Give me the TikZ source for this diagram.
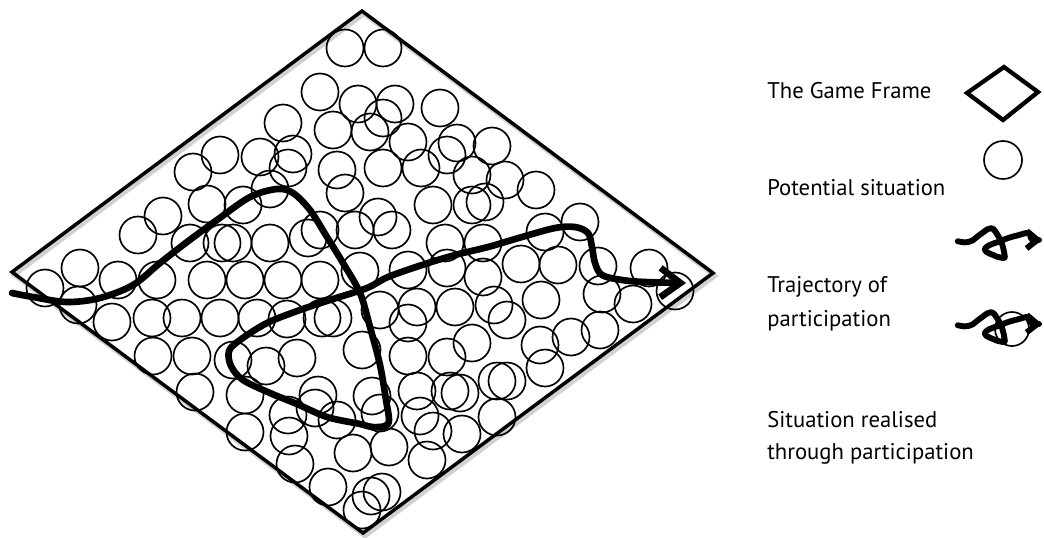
\documentclass[tikz,border=0pt]{standalone}
\usepackage{fontspec}
\setmainfont{PT Sans}
\usetikzlibrary{arrows.meta}
\begin{document}
\begin{tikzpicture}[x=0.75pt,y=-0.75pt,
  frame/.style={line width=2.6pt, line join=miter},
  frameshadow/.style={line width=3.4pt, line join=miter, black!18},
  situation/.style={line width=1.25pt},
  trajline/.style={line cap=round, line join=round},
  lbl/.style={anchor=base west, inner sep=0pt, font=\fontsize{17}{25}\selectfont},
  traj/.pic={
    \begin{scope}[shift={(-350,-307)}]
      \draw[trajline, pic actions] plot[smooth, tension=0.55] coordinates {
        (12,293) (33,297) (67,302) (100,298) (133,285) (160,263) (187,242)
        (217,220) (250,197) (277,189) (293,193) (310,210) (327,237) (343,263)
        (360,293) (370,327) (380,365) (386,400) (389,420) (385,426) (372,427)
        (360,424) (327,417) (297,404) (270,393) (243,380) (231,366) (229,351)
        (240,340) (267,323) (300,310) (333,299) (367,288) (388,277) (422,265)
        (455,255) (488,247) (522,237) (555,228) (575,227) (588,233) (592,247)
        (595,263) (602,275) (622,280) (645,282) (686,283)};
    \end{scope}
  }]
\useasboundingbox (0,0) rectangle (1044,537);

% soft shadow under the frame
\draw[frameshadow] (364,14) -- (715,276) -- (365,536) -- (14,275) -- cycle;

% potential situations
\foreach \p in {
  (345,48),(383,48),
  (320,92),(358,104),(395,104),(440,108),(383,118),
  (283,123),(333,130),(370,132),
  (408,142),(457,143),(492,146),(447,155),
  (220,155),(260,157),(293,154),(288,168),
  (193,172),(337,170),(383,168),(421,168),(472,175),(505,180),(536,190),
  (270,189),(345,193),
  (243,205),(207,204),(163,216),(138,235),
  (433,205),(472,205),(485,202),(378,217),
  (190,243),(222,243),(233,243),(270,243),(308,238),(320,230),(355,230),
  (392,230),(445,243),(483,243),(545,232),(580,222),
  (80,268),(45,288),(78,305),(118,280),(157,280),(207,280),(245,280),(283,280),(320,280),(360,271),
  (408,270),(447,268),(483,277),(521,264),(558,265),(598,266),(649,268),(675,291),
  (112,322),(152,318),(182,318),(220,318),(257,318),(287,319),(322,318),(333,318),
  (380,310),(417,307),(408,323),(455,307),(494,305),(507,320),(541,300),(602,294),(633,304),
  (153,356),(192,356),(233,360),(266,366),(297,358),(362,350),(408,356),(447,357),(472,343),(540,345),(571,337),(600,330),
  (195,392),(245,395),(318,395),(372,396),(417,391),(450,391),(460,393),(497,381),(507,381),(545,368),
  (315,408),(288,415),(337,420),(380,413),(420,416),(433,431),(462,434),(497,417),(245,432),(289,436),
  (353,453),(389,447),(427,460),(295,464),(328,487),(362,510),(371,496),(382,492)}
  \draw[situation] \p circle[radius=18.5];

% the game frame
\coordinate (ft) at (362,11);
\coordinate (fr) at (713,273);
\coordinate (fb) at (363,533);
\coordinate (fl) at (12,272);
\draw[frame] (ft) -- (fr) -- (fb) -- (fl) -- cycle;

% trajectory of participation
\pic[line width=5pt, -{Straight Barb[length=15pt,width=22pt]}] at (350,307) {traj};

% legend
\node[lbl] (l1) at (767,98) {The Game Frame};
\node[lbl] (l2) at (767,195) {Potential situation};
\node[lbl] (l3a) at (767,292) {Trajectory of};
\node[lbl] (l3b) at (767,326) {participation};
\node[lbl] (l4a) at (767,427) {Situation realised};
\node[lbl] (l4b) at (767,459) {through participation};

\draw[line width=3.2pt, line join=miter] (967,93) -- (1004,67) -- (1038,92) -- (1003,120) -- cycle;
\draw[situation] (1003,160) circle[radius=19];
\pic[line width=4.4pt, -{Straight Barb[length=8pt,width=13pt]}, scale=0.125] at (1000,243) {traj};
\pic[line width=4.4pt, -{Straight Barb[length=8pt,width=13pt]}, scale=0.125] at (1000,327) {traj};
\draw[situation] (1012,329) circle[radius=17];
\end{tikzpicture}
\end{document}
